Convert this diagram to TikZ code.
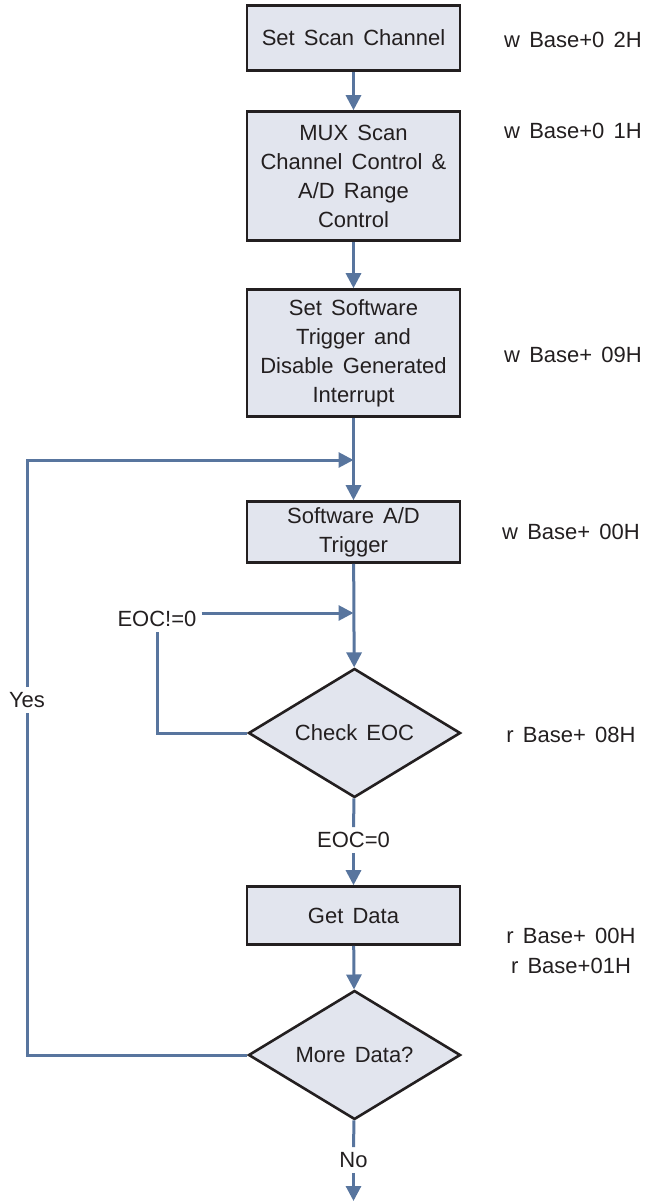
\documentclass[tikz,border=0pt]{standalone}
\usepackage{fontspec}
\setmainfont{Liberation Sans}[WordSpace=1.5]
\usetikzlibrary{shapes.geometric, arrows.meta}

\definecolor{flowblue}{RGB}{88,117,158}
\definecolor{boxfill}{RGB}{226,229,238}
\definecolor{inkgray}{RGB}{35,31,32}

\begin{document}
\begin{tikzpicture}[
  x=1pt, y=-1pt,
  font=\fontsize{22}{29}\selectfont, text=inkgray,
  stepbox/.style={draw=inkgray, fill=boxfill, line width=2.6pt, align=center,
    minimum width=213pt, inner sep=2pt},
  test/.style={diamond, draw=inkgray, fill=boxfill, line width=2.6pt, aspect=1.6,
    minimum width=212pt, minimum height=129pt, inner sep=0pt},
  tag/.style={inner sep=5pt},
  flow/.style={-{Triangle[length=15pt,width=15pt]}, line width=3pt, draw=flowblue},
  wire/.style={line width=3pt, draw=flowblue}
]
\useasboundingbox (0,0) rectangle (646,1202);

% main column, top to bottom
\node[stepbox, minimum height=65pt]  (scan) at (353.5,38)    {Set Scan Channel};
\node[stepbox, minimum height=129pt] (mux)  at (353.5,176)   {MUX Scan\\Channel Control \&\\A/D Range\\Control};
\node[stepbox, minimum height=127pt] (trig) at (353.5,353)   {Set Software\\Trigger and\\Disable Generated\\Interrupt};
\node[stepbox, minimum height=61pt]  (soft) at (353.5,532)   {Software A/D\\Trigger};
\node[test]                          (chk)  at (354.5,733)   {Check EOC};
\node[stepbox, minimum height=58pt]  (get)  at (353.5,915.5) {Get Data};
\node[test]                          (more) at (354.5,1055)  {More Data?};

% branch labels and joins
\node[tag] (neq) at (157,619)    {EOC!=0};
\node[tag] (eq)  at (353.5,840)  {EOC=0};
\node[tag] (yes) at (27,700)     {Yes};
\node[tag] (no)  at (353.5,1160) {No};
\coordinate (loopin) at (353.5,460);
\coordinate (waitin) at (353.5,613);
\coordinate (stop)   at (353.5,1201);

% register accesses on the right
\node (r1) at (573,40)  {w Base+0 2H};
\node (r2) at (573,131) {w Base+0 1H};
\node (r3) at (573,355) {w Base+ 09H};
\node (r4) at (571,532) {w Base+ 00H};
\node (r5) at (571,735) {r Base+ 08H};
\node[align=center, font=\fontsize{22}{30}\selectfont] (r6) at (571,951) {r Base+ 00H\\r Base+01H};

\draw[flow] (scan) -- (mux);
\draw[flow] (mux) -- (trig);
\draw[flow] (trig) -- (soft);
\draw[flow] (soft) -- (chk);
\draw[wire] (chk) -- (eq);
\draw[flow] (eq) -- (get);
\draw[flow] (get) -- (more);
\draw[wire] (more) -- (no);
\draw[flow] (no) -- (stop);

% wait loop and repeat loop
\draw[wire] (chk.west) -| (neq.south);
\draw[flow] (neq.east |- waitin) -- (waitin);
\draw[wire] (more.west) -| (yes.south);
\draw[flow] (yes.north) |- (loopin);

\end{tikzpicture}
\end{document}
